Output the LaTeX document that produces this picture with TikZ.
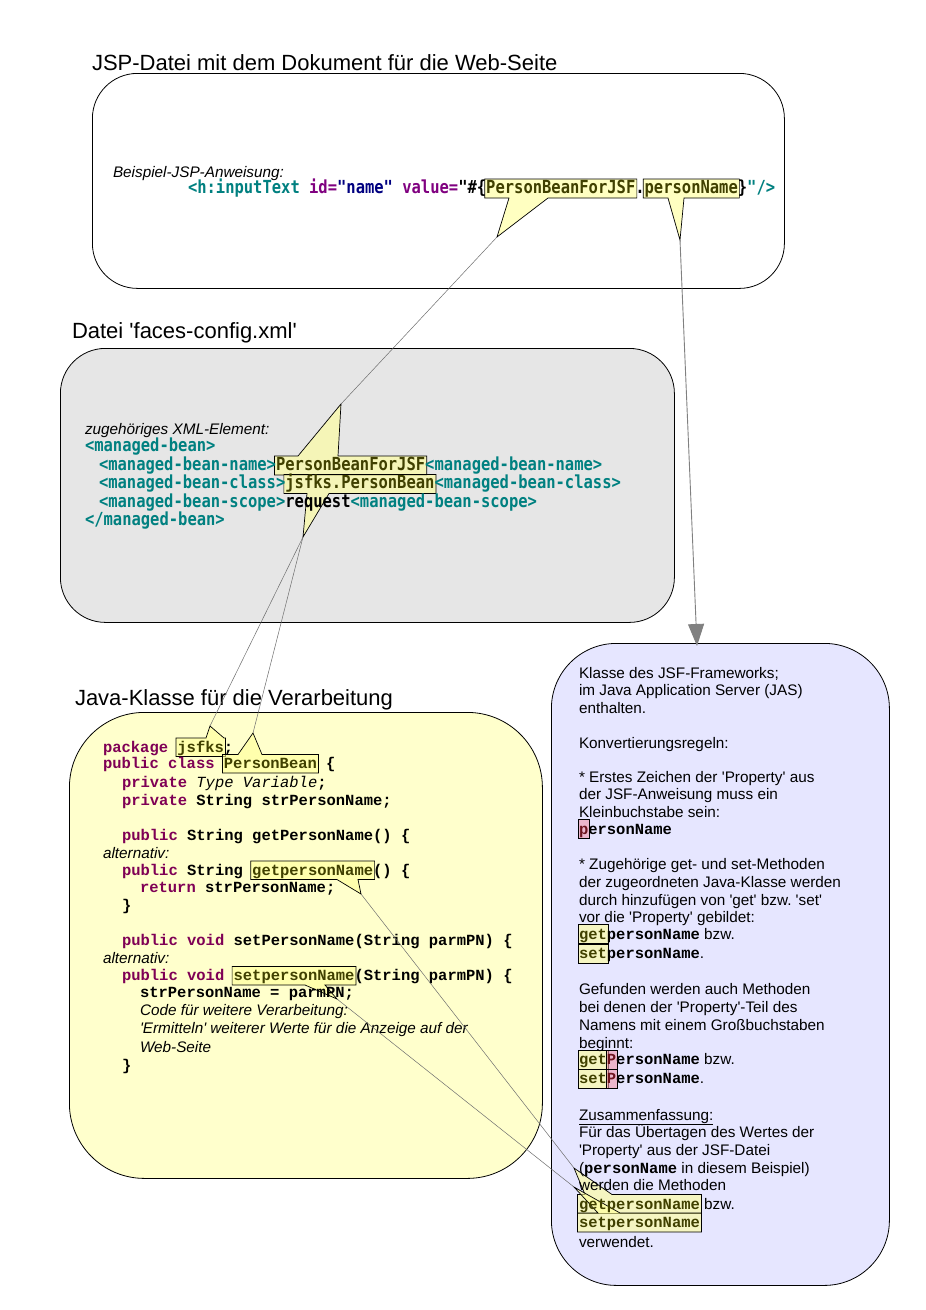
\documentclass[tikz,border=0pt]{standalone}
\usepackage{fontspec}
\setmainfont{Liberation Sans}
\newfontfamily\jspfam{DejaVu Sans Mono Bold}[FakeStretch=0.86]
\newfontfamily\javafam{Liberation Mono}
\usetikzlibrary{calc,arrows.meta}
\pgfdeclarelayer{boxlayer}
\pgfdeclarelayer{calllayer}
\pgfsetlayers{boxlayer,calllayer,main}

\definecolor{cteal}{RGB}{0,128,128}
\definecolor{cpurple}{RGB}{128,0,128}
\definecolor{cnavy}{RGB}{0,0,128}
\definecolor{ckw}{RGB}{127,0,85}
\definecolor{colive}{RGB}{64,64,0}
\definecolor{cyel}{RGB}{255,255,153}
\definecolor{cpink}{RGB}{240,150,170}
\definecolor{cdred}{RGB}{110,20,30}
\definecolor{cgrayfill}{RGB}{230,230,230}
\definecolor{cyelfill}{RGB}{255,255,204}
\definecolor{clavfill}{RGB}{230,230,255}
\definecolor{cline}{RGB}{110,110,110}
\definecolor{carrow}{RGB}{128,128,128}

\newcommand\fJsp{\jspfam\fontsize{18}{18}\selectfont}
\newcommand\fJava{\javafam\bfseries\fontsize{15.5}{15.5}\selectfont}
\newcommand\fJavaIt{\javafam\mdseries\itshape\fontsize{15.5}{15.5}\selectfont}
\newcommand\fSans{\fontsize{15.3}{15.3}\selectfont}
\newcommand\fIt{\itshape\fontsize{15.3}{15.3}\selectfont}
\newcommand\fTitle{\fontsize{22}{22}\selectfont}
\newcommand\sqt{\textquotesingle}
\newcommand\kSp{\ \null}

\tikzset{
 tx/.style={anchor=base west, inner sep=0pt, outer sep=0pt},
 jsp/.style={tx, font=\fJsp, text height=14pt, text depth=5pt},
 java/.style={tx, font=\fJava, text height=14pt, text depth=4.5pt},
 javait/.style={tx, font=\fJavaIt},
 sans/.style={tx, font=\fSans},
 itx/.style={tx, font=\fIt},
 ttl/.style={tx, font=\fTitle},
 rmono/.style={tx, font=\fJava, text height=14.5pt, text depth=4.5pt},
 callfill/.style={draw=black, line width=0.7pt, fill=cyel, fill opacity=0.6},
 yelbox/.style={draw=black, line width=0.7pt, fill=cyel, fill opacity=0.6},
 pinkbox/.style={draw=black, line width=0.7pt, fill=cpink, fill opacity=0.6},
 conn/.style={draw=cline, line width=0.5pt},
 bigarrow/.style={draw=carrow, line width=0.9pt, -{Triangle[length=22pt,width=16pt]}},
 panel/.style={draw=black, line width=0.8pt, anchor=north west, inner sep=0pt},
}

\newcommand\cbot[4]{%
  \path[callfill] ($(#1.north west)+(-1.5,0)$) -- ($(#1.north east)+(1.5,0)$) -- ($(#1.south east)+(1.5,0)$) -- (#3,0 |- #1.south) -- (#4) -- (#2,0 |- #1.south) -- ($(#1.south west)+(-1.5,0)$) -- cycle;}
\newcommand\ctop[4]{%
  \path[callfill] ($(#1.south west)+(-1.5,0)$) -- ($(#1.north west)+(-1.5,0)$) -- (#2,0 |- #1.north) -- (#4) -- (#3,0 |- #1.north) -- ($(#1.north east)+(1.5,0)$) -- ($(#1.south east)+(1.5,0)$) -- cycle;}
\newcommand\hlrect[2]{\path[#2] ($(#1.north west)+(-1,0)$) rectangle ($(#1.south east)+(1,0)$);}

\begin{document}
\frenchspacing
\begin{tikzpicture}[x=1pt,y=-1pt]
\useasboundingbox (0,0) rectangle (926,1310);

\begin{pgfonlayer}{boxlayer}
\fill[white] (0,0) rectangle (926,1310);
\node[panel, fill=white, rounded corners=45pt, minimum width=692pt, minimum height=215pt] (box1) at (92,73) {};
\node[panel, fill=cgrayfill, rounded corners=45pt, minimum width=614pt, minimum height=274pt] (box2) at (60,348) {};
\node[panel, fill=cyelfill, rounded corners=75pt, minimum width=473pt, minimum height=466pt] (box3) at (69,712) {};
\node[panel, fill=clavfill, rounded corners=65pt, minimum width=338pt, minimum height=642pt] (box4) at (551,643) {};
\end{pgfonlayer}

% titles
\node[ttl] (t1) at (92,70) {JSP-Datei mit dem Dokument für die Web-Seite};
\node[ttl] (t2) at (72,338) {Datei \sqt faces-config.xml\sqt};
\node[ttl] (t3) at (75,705) {Java-Klasse für die Verarbeitung};

% box 1
\node[itx] (b1lab) at (113,177.5) {Beispiel-JSP-Anweisung:};
\node[jsp,text=cteal] (j1) at (188,193) {<h:inputText};
\node[jsp,text=cpurple] (j2) at (j1.base east) {\ id=};
\node[jsp,text=cnavy] (j3) at (j2.base east) {"name"};
\node[jsp,text=cpurple] (j4) at (j3.base east) {\ value=};
\node[jsp] (j5) at (j4.base east) {"\#\{};
\node[jsp,text=colive] (hlA) at (j5.base east) {PersonBeanForJSF};
\node[jsp] (j7) at (hlA.base east) {.};
\node[jsp,text=colive] (hlJ) at (j7.base east) {personName};
\node[jsp] (j9) at (hlJ.base east) {\}};
\node[jsp,text=cteal] (j10) at (j9.base east) {"/>};

% box 2
\node[itx] (b2lab) at (85,434) {zugehöriges XML-Element:};
\node[jsp,text=cteal] (x1) at (85,451) {<managed-bean>};
\node[jsp,text=cteal] (x2a) at (99,470) {<managed-bean-name>};
\node[jsp,text=colive] (hlB) at (x2a.base east) {PersonBeanForJSF};
\node[jsp,text=cteal] (x2c) at (hlB.base east) {<managed-bean-name>};
\node[jsp,text=cteal] (x3a) at (99,488.5) {<managed-bean-class>};
\node[jsp,text=colive] (hlC) at (x3a.base east) {jsfks.PersonBean};
\node[jsp,text=cteal] (x3c) at (hlC.base east) {<managed-bean-class>};
\node[jsp,text=cteal] (x4a) at (99,507) {<managed-bean-scope>};
\node[jsp] (x4b) at (x4a.base east) {request};
\node[jsp,text=cteal] (x4c) at (x4b.base east) {<managed-bean-scope>};
\node[jsp,text=cteal] (x5) at (85,525) {</managed-bean>};

% box 3
\node[java,text=ckw] (p1a) at (103,752) {package\kSp};
\node[java,text=colive] (hlD) at (p1a.base east) {jsfks};
\node[java] (p1c) at (hlD.base east) {;};
\node[java,text=ckw] (p2a) at (103,768.5) {public class\kSp};
\node[java,text=colive] (hlE) at (p2a.base east) {PersonBean};
\node[java] (p2c) at (hlE.base east) {\ \{};
\node[java,text=ckw] (p3a) at (122,787) {private\kSp};
\node[javait] (p3b) at (p3a.base east) {Type Variable};
\node[java] (p3c) at (p3b.base east) {;};
\node[java,text=ckw] (p4a) at (122,805) {private};
\node[java] (p4b) at (p4a.base east) {\ String strPersonName;};
\node[java,text=ckw] (p5a) at (122,840) {public};
\node[java] (p5b) at (p5a.base east) {\ String getPersonName() \{};
\node[itx] (p6) at (103,858) {alternativ:};
\node[java,text=ckw] (p7a) at (122,875) {public};
\node[java] (p7b) at (p7a.base east) {\ String\kSp};
\node[java,text=colive] (hlF) at (p7b.base east) {getpersonName};
\node[java] (p7d) at (hlF.base east) {() \{};
\node[java,text=ckw] (p8a) at (140,892) {return};
\node[java] (p8b) at (p8a.base east) {\ strPersonName;};
\node[java] (p9) at (122,910) {\}};
\node[java,text=ckw] (p10a) at (122,945) {public void};
\node[java] (p10b) at (p10a.base east) {\ setPersonName(String parmPN) \{};
\node[itx] (p11) at (103,963) {alternativ:};
\node[java,text=ckw] (p12a) at (122,980.5) {public void\kSp};
\node[java,text=colive] (hlG) at (p12a.base east) {setpersonName};
\node[java] (p12c) at (hlG.base east) {(String parmPN) \{};
\node[java] (p13) at (140,997.5) {strPersonName = parmPN;};
\node[itx] (p14) at (140,1015.5) {Code für weitere Verarbeitung:};
\node[itx] (p15) at (140,1033.5) {\sqt Ermitteln\sqt\ weiterer Werte für die Anzeige auf der};
\node[itx] (p16) at (140,1052) {Web-Seite};
\node[java] (p17) at (122,1070) {\}};

% box 4
\node[sans] (r1) at (579,678.5) {Klasse des JSF-Frameworks;};
\node[sans] (r2) at (579,695.5) {im Java Application Server (JAS)};
\node[sans] (r3) at (579,713.5) {enthalten.};
\node[sans] (r4) at (579,748.5) {Konvertierungsregeln:};
\node[sans] (r5) at (579,782.5) {* Erstes Zeichen der \sqt Property\sqt\ aus};
\node[sans] (r6) at (579,799.5) {der JSF-Anweisung muss ein};
\node[sans] (r7) at (579,817.5) {Kleinbuchstabe sein:};
\node[rmono,text=cdred] (hp0) at (579,834) {p};
\node[rmono] (r8b) at (hp0.base east) {ersonName};
\node[sans] (r9) at (579,869.5) {* Zugehörige get- und set-Methoden};
\node[sans] (r10) at (579,887.5) {der zugeordneten Java-Klasse werden};
\node[sans] (r11) at (579,905) {durch hinzufügen von \sqt get\sqt\ bzw. \sqt set\sqt};
\node[sans] (r12) at (579,922.5) {vor die \sqt Property\sqt\ gebildet:};
\node[rmono,text=colive] (hget1) at (579,939) {get};
\node[rmono] (r13b) at (hget1.base east) {personName};
\node[sans] (r13c) at (r13b.base east) {\ bzw.};
\node[rmono,text=colive] (hset1) at (579,958.5) {set};
\node[rmono] (r14b) at (hset1.base east) {personName};
\node[sans] (r14c) at (r14b.base east) {.};
\node[sans] (r15) at (579,994.5) {Gefunden werden auch Methoden};
\node[sans] (r16) at (579,1012.5) {bei denen der \sqt Property\sqt -Teil des};
\node[sans] (r17) at (579,1030.5) {Namens mit einem Großbuchstaben};
\node[sans] (r18) at (579,1048) {beginnt:};
\node[rmono,text=colive] (hget2) at (579,1064.5) {get};
\node[rmono,text=cdred] (hP1) at (hget2.base east) {P};
\node[rmono] (r19c) at (hP1.base east) {ersonName};
\node[sans] (r19d) at (r19c.base east) {\ bzw.};
\node[rmono,text=colive] (hset2) at (579,1083.5) {set};
\node[rmono,text=cdred] (hP2) at (hset2.base east) {P};
\node[rmono] (r20c) at (hP2.base east) {ersonName};
\node[sans] (r20d) at (r20c.base east) {.};
\node[sans] (r21) at (579,1120) {\underline{Zusammenfassung:}};
\node[sans] (r22) at (579,1137.5) {Für das Übertagen des Wertes der};
\node[sans] (r23) at (579,1155) {\sqt Property\sqt\ aus der JSF-Datei};
\node[sans] (r24a) at (579,1173) {(};
\node[rmono] (r24b) at (r24a.base east) {personName};
\node[sans] (r24c) at (r24b.base east) {\ in diesem Beispiel)};
\node[sans] (r25) at (579,1190.5) {werden die Methoden};
\node[rmono,text=colive] (hH) at (579,1209) {getpersonName};
\node[sans] (r26b) at (hH.base east) {\ bzw.};
\node[rmono,text=colive] (hI) at (579,1227.5) {setpersonName};
\node[sans] (r28) at (579,1247.5) {verwendet.};

% callout tips
\coordinate (tipA) at (497,237);
\coordinate (tipJ) at (680,240);
\coordinate (tipB) at (341,404);
\coordinate (tipC) at (303,537);
\coordinate (tipD) at (210,726);
\coordinate (tipE) at (253,733);
\coordinate (tipF) at (361,894);
\coordinate (tipG) at (337,999);
\coordinate (tipH) at (574,1168);
\coordinate (tipI) at (574,1187);
\coordinate (arrEnd) at (697,646);

\begin{pgfonlayer}{calllayer}
\cbot{hlA}{509}{548}{tipA}
\cbot{hlJ}{668}{684}{tipJ}
\ctop{hlB}{298}{338}{tipB}
\cbot{hlC}{307}{329}{tipC}
\ctop{hlD}{206}{224}{tipD}
\ctop{hlE}{238}{262}{tipE}
\cbot{hlF}{337}{358}{tipF}
\cbot{hlG}{305}{325}{tipG}
\hlrect{hp0}{pinkbox}
\hlrect{hget1}{yelbox}
\hlrect{hset1}{yelbox}
\hlrect{hget2}{yelbox}
\hlrect{hset2}{yelbox}
\hlrect{hP1}{pinkbox}
\hlrect{hP2}{pinkbox}
\ctop{hH}{585}{612}{tipH}
\ctop{hI}{598}{620}{tipI}
\end{pgfonlayer}

% connectors
\draw[conn] (tipA) -- (tipB);
\draw[conn] (tipC) -- (tipD);
\draw[conn] (tipC) -- (tipE);
\draw[conn] (tipF) -- (tipH);
\draw[conn] (tipG) -- (tipI);
\draw[bigarrow] (tipJ) -- (arrEnd);
\end{tikzpicture}
\end{document}
